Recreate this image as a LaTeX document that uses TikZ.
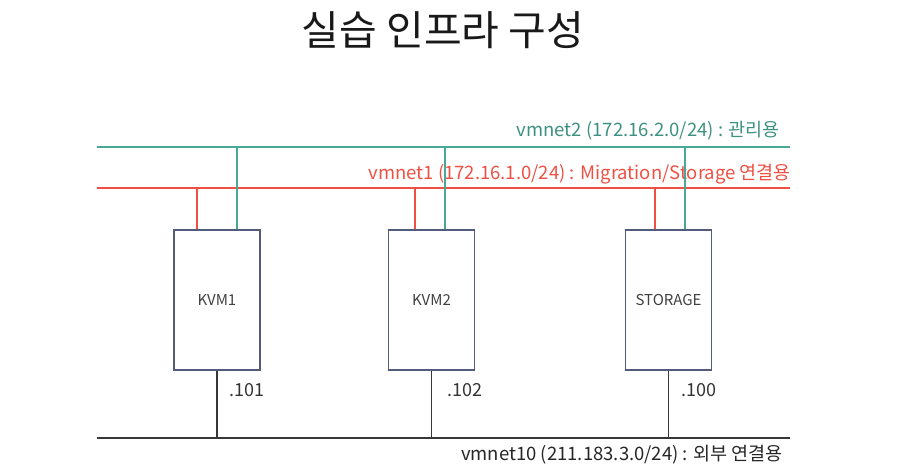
\documentclass[tikz,border=0pt]{standalone}
\usepackage{fontspec}
\setmainfont{Noto Sans CJK KR}
\usetikzlibrary{positioning,calc}
\definecolor{mgteal}{RGB}{72,170,150}
\definecolor{mgred}{RGB}{238,80,68}
\definecolor{hostblue}{RGB}{84,92,124}
\definecolor{extgray}{RGB}{55,55,55}
\tikzset{host/.style={draw=hostblue,line width=1.4pt,minimum width=86pt,minimum height=140pt,font=\fontsize{15}{17}\selectfont,text=black!75},
  vm2/.style={draw=mgteal,line width=1.3pt},
  vm1/.style={draw=mgred,line width=1.3pt},
  ext/.style={draw=extgray,line width=1.6pt},
  netlab/.style={anchor=base east,inner sep=0pt,font=\fontsize{18.5}{20}\selectfont},
  addr/.style={font=\fontsize{18}{20}\selectfont,text=black!80,anchor=base west,inner sep=0pt}}
\begin{document}
\begin{tikzpicture}[x=1pt,y=-1pt]
\useasboundingbox (0,0) rectangle (899,473);
\node[font=\fontsize{41}{46}\selectfont,text=black!90] (title) at (443,30) {실습 인프라 구성};
% buses
\coordinate (n2a) at (97,147);  \coordinate (n2b) at (790,147);
\coordinate (n1a) at (97,188);  \coordinate (n1b) at (790,188);
\coordinate (n10a) at (97,438); \coordinate (n10b) at (790,438);
\draw[vm2] (n2a) -- (n2b);
\draw[vm1] (n1a) -- (n1b);
\draw[ext] (n10a) -- (n10b);
\node[netlab,text=mgteal!85!black] (lab2) at (780,137) {vmnet2 (172.16.2.0/24) : 관리용};
\node[netlab,text=mgred] (lab1) at (791,179) {vmnet1 (172.16.1.0/24) : Migration/Storage 연결용};
\node[netlab,text=black!85] (lab10) at (783,460) {vmnet10 (211.183.3.0/24) : 외부 연결용};
% hosts
\node[host] (kvm1) at (217,300) {KVM1};
\node[host] (kvm2) at (431.5,300) {KVM2};
\node[host] (stor) at (668.5,300) {STORAGE};
\foreach \h/\r/\t in {kvm1/-20/20, kvm2/-16.5/13.5, stor/-13.5/16.5}{
  \coordinate (\h r) at ([xshift=\r pt]\h.north);
  \coordinate (\h t) at ([xshift=\t pt]\h.north);
  \draw[vm1] (\h r) -- (\h r |- n1a);
  \draw[vm2] (\h t) -- (\h t |- n2a);
  \draw[ext] (\h.south) -- (\h.south |- n10a);
}
\node[addr] (ip1) at (229,396) {.101};
\node[addr] (ip2) at (447,396) {.102};
\node[addr] (ip3) at (681,396) {.100};
\end{tikzpicture}
\end{document}
